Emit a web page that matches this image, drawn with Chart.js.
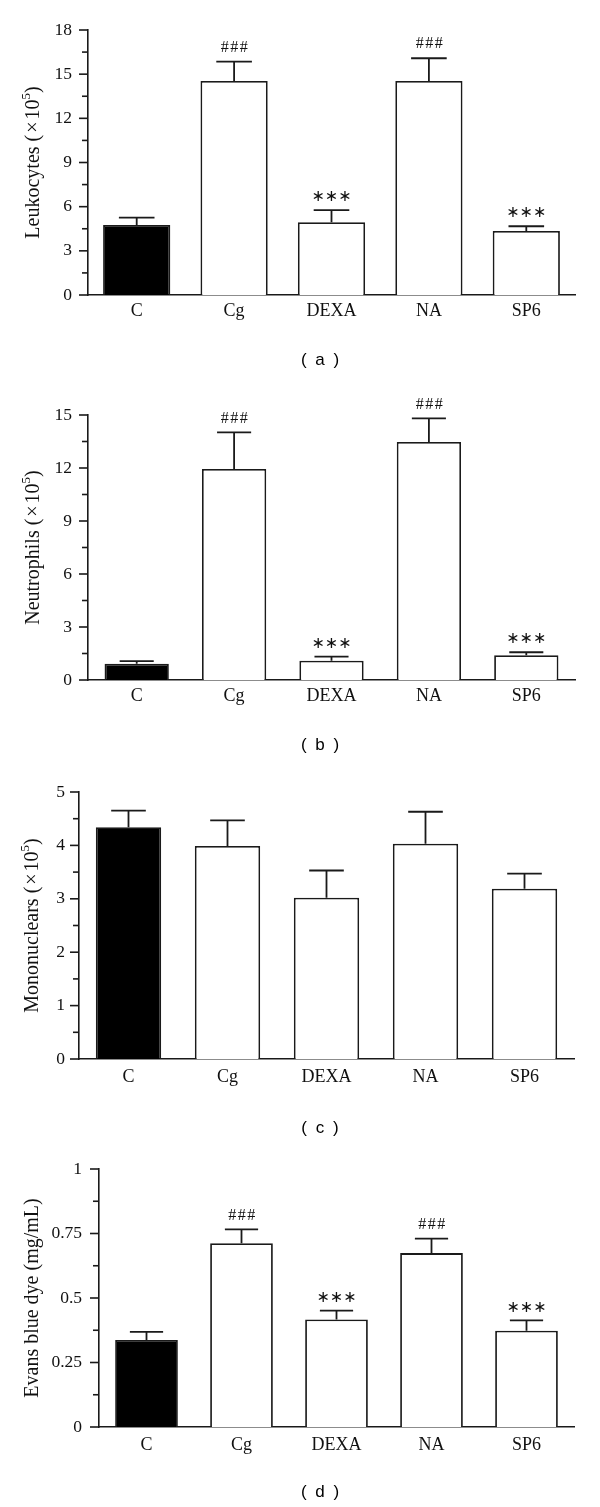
<!DOCTYPE html>
<html>
<head>
<meta charset="utf-8">
<script src="https://cdn.jsdelivr.net/npm/chart.js@4.4.0/dist/chart.umd.min.js"></script>
<style>
html, body { margin: 0; padding: 0; background: #fff; width: 600px; height: 1507px; overflow: hidden; }
.panel { position: absolute; left: 0; width: 600px; }
.panel canvas { display: block; }
.plabel { position: absolute; left: 0; width: 642px; text-align: center; font: 17px "Liberation Sans", Arial, sans-serif; letter-spacing: 2px; line-height: 20px; color: #000; }
</style>
</head>
<body>
<div class="panel" style="top:0px"><canvas id="ca" width="600" height="380"></canvas></div>
<div class="panel" style="top:380px"><canvas id="cb" width="600" height="380"></canvas></div>
<div class="panel" style="top:760px"><canvas id="cc" width="600" height="380"></canvas></div>
<div class="panel" style="top:1140px"><canvas id="cd" width="600" height="367"></canvas></div>
<div class="plabel" style="top:350px">( a )</div>
<div class="plabel" style="top:735px">( b )</div>
<div class="plabel" style="top:1118px">( c )</div>
<div class="plabel" style="top:1482px">( d )</div>
<script>
// ---------------- data ----------------
const categories = ['C', 'Cg', 'DEXA', 'NA', 'SP6'];

const leukocytes    = [4.75, 14.54, 4.94, 14.54, 4.35];
const leukocytesSem = [0.50, 1.31, 0.83, 1.54, 0.32];
const leukocytesSig = ['', '###', '***', '###', '***'];
const leukocyteTicks = [0, 3, 6, 9, 12, 15, 18];

const neutrophils    = [0.92, 11.94, 1.09, 13.47, 1.40];
const neutrophilsSem = [0.15, 2.08, 0.23, 1.34, 0.17];
const neutrophilsSig = ['', '###', '***', '###', '***'];
const neutrophilTicks = [0, 3, 6, 9, 12, 15];

const mononuclears    = [4.34, 3.99, 3.02, 4.03, 3.19];
const mononuclearsSem = [0.31, 0.48, 0.51, 0.60, 0.28];
const mononuclearsSig = ['', '', '', '', ''];
const mononuclearTicks = [0, 1, 2, 3, 4, 5];

const evansBlue    = [0.337, 0.712, 0.417, 0.674, 0.373];
const evansBlueSem = [0.032, 0.054, 0.034, 0.056, 0.040];
const evansBlueSig = ['', '###', '***', '###', '***'];
const evansBlueTicks = [0, 0.25, 0.5, 0.75, 1];

// ---------------- drawing ----------------
const INK = '#1a1a1a';
const TXT = '#111111';
function fmt(v) { return String(Number(v.toFixed(3))); }
function isMajor(list, v) { return list.some(l => Math.abs(l - v) < 1e-9); }

function makeOverlay(p) {
  return {
    id: 'overlay_' + p.id,
    afterDatasetsDraw(chart) {
      const ctx = chart.ctx, ys = chart.scales.y, ca = chart.chartArea;
      const meta = chart.getDatasetMeta(0);
      ctx.save();
      ctx.strokeStyle = INK;
      ctx.fillStyle = TXT;
      ctx.lineWidth = 1.8;
      // error bars + significance marks
      meta.data.forEach((bar, i) => {
        const pr = bar.getProps(['x', 'width'], true);
        const bx = pr.x, bw = pr.width;
        const yv = ys.getPixelForValue(p.values[i]);
        const ye = ys.getPixelForValue(p.values[i] + p.sem[i]);
        const cw = bw * 0.53;
        ctx.beginPath();
        ctx.moveTo(bx, yv); ctx.lineTo(bx, ye);
        ctx.moveTo(bx - cw / 2, ye); ctx.lineTo(bx + cw / 2, ye);
        ctx.stroke();
        const m = p.sig[i];
        if (m) {
          ctx.textAlign = 'center';
          ctx.textBaseline = 'middle';
          if (m === '###') {
            ctx.font = '16px "Liberation Serif", serif';
            ctx.letterSpacing = '1.5px';
            ctx.fillText('###', bx + 1, ye - 14);
          } else {
            ctx.font = '16px "DejaVu Sans", sans-serif';
            ctx.letterSpacing = '0px';
            ctx.fillText('\u2217\u2217\u2217', bx, ye - 13);
          }
          ctx.letterSpacing = '0px';
        }
      });
      // y tick marks (major + minor)
      ctx.lineWidth = 1.6;
      ys.ticks.forEach(t => {
        const py = ys.getPixelForValue(t.value);
        const len = isMajor(p.ticks, t.value) ? 9 : 6;
        ctx.beginPath();
        ctx.moveTo(ca.left - len, py); ctx.lineTo(ca.left, py);
        ctx.stroke();
      });
      // y axis title (rotated, with optional superscript)
      const main = '20px "Liberation Serif", serif';
      const sup = '13px "Liberation Serif", serif';
      const parts = p.title;
      let total = 0;
      parts.forEach(pt => {
        if (pt.gap) { total += pt.gap; return; }
        ctx.font = pt.sup ? sup : main;
        pt.w = ctx.measureText(pt.t).width;
        total += pt.w;
      });
      ctx.translate(p.titleX, (ca.top + ca.bottom) / 2);
      ctx.rotate(-Math.PI / 2);
      ctx.textAlign = 'left';
      ctx.textBaseline = 'middle';
      let cx = -total / 2;
      parts.forEach(pt => {
        if (pt.gap) { cx += pt.gap; return; }
        ctx.font = pt.sup ? sup : main;
        ctx.fillText(pt.t, cx, pt.sup ? -7 : 0);
        cx += pt.w;
      });
      ctx.restore();
    }
  };
}

function makePanel(p) {
  const a = p.area;
  return new Chart(document.getElementById(p.id), {
    type: 'bar',
    data: {
      labels: categories,
      datasets: [{
        data: p.values,
        backgroundColor: categories.map((c, i) => i === 0 ? '#000000' : '#ffffff'),
        borderColor: INK,
        borderWidth: 1.8,
        borderSkipped: 'start',
        barPercentage: p.barPct,
        categoryPercentage: 1
      }]
    },
    options: {
      responsive: false,
      animation: false,
      devicePixelRatio: 1,
      layout: { padding: { top: a.top, right: 600 - a.right, bottom: 0, left: 0 } },
      plugins: { legend: { display: false }, tooltip: { enabled: false } },
      scales: {
        x: {
          grid: { display: false, drawTicks: false },
          border: { display: true, color: INK, width: 1.6 },
          ticks: { font: { family: 'Liberation Serif', size: 18 }, color: TXT, padding: p.xPad, autoSkip: false, maxRotation: 0 },
          afterFit: s => { s.height = a.h - a.bottom; }
        },
        y: {
          min: 0, max: p.yMax,
          grid: { display: false, drawTicks: false },
          border: { display: true, color: INK, width: 1.6 },
          ticks: {
            stepSize: p.yStep, autoSkip: false, padding: p.yPad,
            font: { family: 'Liberation Serif', size: 17.5 }, color: TXT,
            callback: v => isMajor(p.ticks, v) ? fmt(v) : ''
          },
          afterFit: s => { s.width = a.left; }
        }
      }
    },
    plugins: [makeOverlay(p)]
  });
}

const supTitle = word => [
  { t: word + ' (' }, { gap: 2 }, { t: '\u00d7' }, { gap: 2 }, { t: '10' }, { t: '5', sup: true }, { t: ')' }
];

makePanel({ id: 'ca', values: leukocytes, sem: leukocytesSem, sig: leukocytesSig, ticks: leukocyteTicks,
  yMax: 18, yStep: 1.5, barPct: 0.69, xPad: 5, yPad: 16, titleX: 34,
  title: supTitle('Leukocytes'),
  area: { left: 88, right: 575, top: 30, bottom: 295, h: 380 } });

makePanel({ id: 'cb', values: neutrophils, sem: neutrophilsSem, sig: neutrophilsSig, ticks: neutrophilTicks,
  yMax: 15, yStep: 1.5, barPct: 0.66, xPad: 5, yPad: 16, titleX: 34,
  title: supTitle('Neutrophils'),
  area: { left: 88, right: 575, top: 35, bottom: 300, h: 380 } });

makePanel({ id: 'cc', values: mononuclears, sem: mononuclearsSem, sig: mononuclearsSig, ticks: mononuclearTicks,
  yMax: 5, yStep: 0.5, barPct: 0.66, xPad: 7, yPad: 14, titleX: 33,
  title: supTitle('Mononuclears'),
  area: { left: 79, right: 574, top: 32, bottom: 299, h: 380 } });

makePanel({ id: 'cd', values: evansBlue, sem: evansBlueSem, sig: evansBlueSig, ticks: evansBlueTicks,
  yMax: 1, yStep: 0.125, barPct: 0.66, xPad: 7, yPad: 17, titleX: 33,
  title: [{ t: 'Evans blue dye (mg/mL)' }],
  area: { left: 99, right: 574, top: 29, bottom: 287, h: 367 } });
</script>
</body>
</html>
